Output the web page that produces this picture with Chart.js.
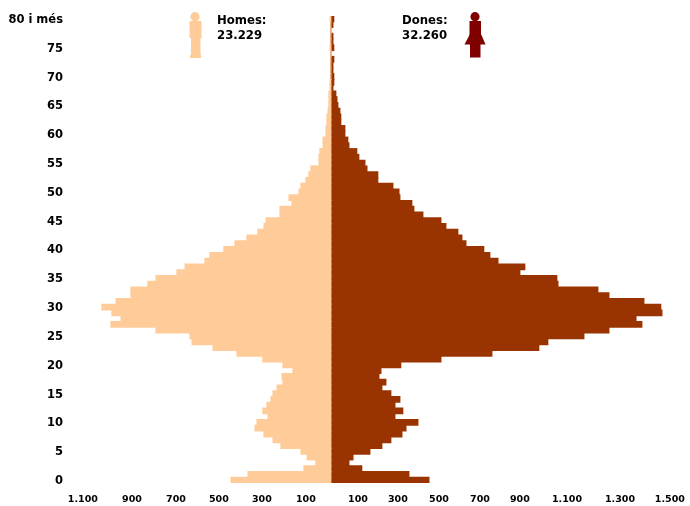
<!DOCTYPE html>
<html>
<head>
<meta charset="utf-8">
<style>
  html, body { margin: 0; padding: 0; background: #fff; }
  #wrap { width: 690px; height: 506px; }
</style>
<script src="https://cdn.jsdelivr.net/npm/chart.js@4/dist/chart.umd.min.js"></script>
</head>
<body>
<div id="wrap"><canvas id="pyramid"></canvas></div>
<script>
// ages from the top row down to 0
const ages = ["80 i més", "79", "78", "77", "76", "75", "74", "73", "72", "71", "70", "69", "68", "67", "66", "65", "64", "63", "62", "61", "60", "59", "58", "57", "56", "55", "54", "53", "52", "51", "50", "49", "48", "47", "46", "45", "44", "43", "42", "41", "40", "39", "38", "37", "36", "35", "34", "33", "32", "31", "30", "29", "28", "27", "26", "25", "24", "23", "22", "21", "20", "19", "18", "17", "16", "15", "14", "13", "12", "11", "10", "9", "8", "7", "6", "5", "4", "3", "2", "1", "0"];
const homes = [4, 0, 0, 0, 0, 4, 0, 0, 0, 0, 0, 4, 4, 9, 9, 9, 13, 18, 18, 22, 22, 35, 35, 49, 53, 53, 89, 98, 111, 133, 142, 186, 173, 226, 226, 288, 297, 324, 373, 426, 475, 537, 559, 647, 683, 776, 812, 887, 887, 953, 1016, 971, 931, 976, 776, 625, 616, 523, 417, 302, 213, 169, 217, 213, 239, 257, 266, 284, 302, 279, 328, 337, 297, 257, 222, 133, 106, 67, 120, 368, 443];
const dones = [13, 9, 0, 9, 9, 13, 0, 13, 9, 9, 13, 13, 9, 22, 27, 31, 40, 44, 44, 62, 62, 75, 80, 115, 124, 151, 160, 208, 208, 275, 302, 306, 359, 368, 408, 488, 510, 563, 581, 599, 678, 705, 741, 860, 838, 1002, 1007, 1184, 1233, 1388, 1463, 1468, 1353, 1379, 1233, 1122, 962, 922, 714, 488, 310, 222, 213, 244, 226, 266, 306, 284, 319, 284, 386, 333, 315, 266, 226, 173, 98, 80, 137, 346, 435];

// the printed labels are not evenly spaced in the original, so each has its own anchor
const xTickLabels = ["1.100", "900", "700", "500", "300", "100", "100", "300", "500", "700", "900", "1.100", "1.300", "1.500"];
const xTickAnchors = [-1100, -882, -687, -497, -306, -111, 120, 297, 479, 661, 838, 1047, 1282, 1503];

const fontFamily = '"DejaVu Sans", Verdana, sans-serif';
const colorHomes = "#FFCC99";
const colorDones = "#993300";
const colorWoman = "#800000";

// figures and totals at the top of the chart
const legendPlugin = {
    id: "legendFigures",
    afterDraw(chart) {
        const ctx = chart.ctx;
        ctx.save();

        ctx.fillStyle = colorHomes;
        ctx.beginPath();
        ctx.arc(195, 16.7, 4.6, 0, Math.PI * 2);
        ctx.fill();
        ctx.fillRect(189.5, 21, 12, 17);
        ctx.fillRect(191, 38, 9.5, 17);
        ctx.fillRect(190, 55, 11, 3);

        ctx.fillStyle = colorWoman;
        ctx.beginPath();
        ctx.arc(475, 16.7, 4.6, 0, Math.PI * 2);
        ctx.fill();
        ctx.fillRect(469.5, 21, 11.5, 16);
        ctx.beginPath();
        ctx.moveTo(470, 34);
        ctx.lineTo(481, 34);
        ctx.lineTo(485.5, 44.5);
        ctx.lineTo(464.5, 44.5);
        ctx.closePath();
        ctx.fill();
        ctx.fillRect(470, 44, 10.5, 13.5);

        ctx.fillStyle = "#000";
        ctx.font = "bold 11.7px " + fontFamily;
        ctx.textAlign = "left";
        ctx.textBaseline = "alphabetic";
        ctx.fillText("Homes:", 217, 24);
        ctx.fillText("23.229", 217, 39);
        ctx.fillText("Dones:", 402, 24);
        ctx.fillText("32.260", 402, 39);
        ctx.restore();
    }
};

new Chart(document.getElementById("pyramid"), {
    type: "bar",
    data: {
        labels: ages,
        datasets: [
            { label: "Homes", data: homes.map(v => -v), backgroundColor: colorHomes, borderWidth: 0, inflateAmount: 0.5 },
            { label: "Dones", data: dones, backgroundColor: colorDones, borderWidth: 0, inflateAmount: 0.5 }
        ]
    },
    options: {
        indexAxis: "y",
        responsive: true,
        maintainAspectRatio: false,
        animation: false,
        barPercentage: 1,
        categoryPercentage: 1,
        layout: { padding: { top: 16, right: 10, bottom: 0, left: 0 } },
        plugins: { legend: { display: false }, tooltip: { enabled: false } },
        scales: {
            x: {
                stacked: true,
                min: -1157,
                max: 1548,
                grid: { display: false, drawTicks: false },
                border: { display: false },
                afterBuildTicks: axis => { axis.ticks = xTickAnchors.map(v => ({ value: v })); },
                afterFit: axis => {
                    axis.height = 23;
                    axis.paddingLeft = 0;
                    axis.paddingRight = 0;
                },
                ticks: {
                    autoSkip: false,
                    maxRotation: 0,
                    padding: 11,
                    color: "#000",
                    font: { family: fontFamily, size: 9.5, weight: "bold" },
                    callback: (value, i) => xTickLabels[i]
                }
            },
            y: {
                stacked: true,
                grid: { display: false, drawTicks: false },
                border: { display: false },
                afterFit: axis => {
                    axis.width = 70;
                    axis.paddingTop = 0;
                    axis.paddingBottom = 0;
                },
                ticks: {
                    autoSkip: false,
                    padding: 7,
                    labelOffset: 1,
                    color: "#000",
                    font: { family: fontFamily, size: 11.5, weight: "bold" },
                    callback: function (value, i) {
                        const age = ages[i];
                        return parseInt(age) % 5 === 0 ? age : "";
                    }
                }
            }
        }
    },
    plugins: [legendPlugin]
});
</script>
</body>
</html>
